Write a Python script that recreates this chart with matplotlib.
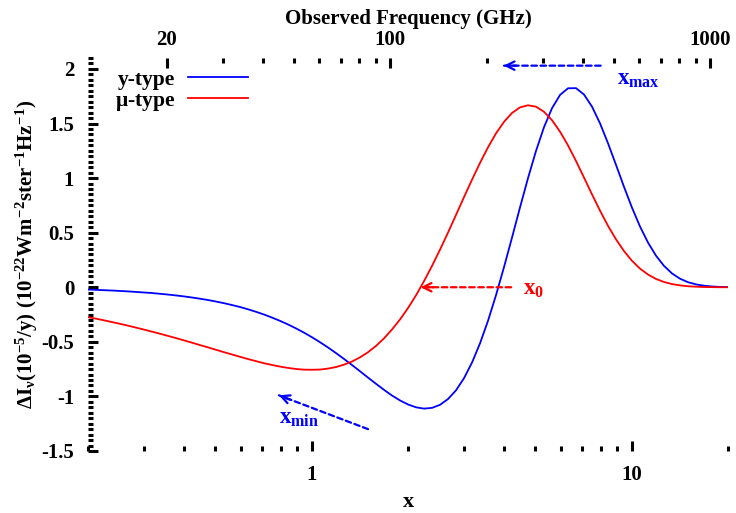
import matplotlib
matplotlib.use("Agg")
import matplotlib.pyplot as plt
from matplotlib.ticker import FixedLocator, FuncFormatter, MultipleLocator, NullFormatter

# dimensionless frequency x = h nu / k T
x = [0.2, 0.2119, 0.2244, 0.2377, 0.2518, 0.2667, 0.2825, 0.2992, 0.317, 0.3358,
     0.3557, 0.3767, 0.3991, 0.4227, 0.4477, 0.4743, 0.5024, 0.5321, 0.5637, 0.5971,
     0.6325, 0.6699, 0.7096, 0.7517, 0.7962, 0.8434, 0.8934, 0.9463, 1.002, 1.062,
     1.125, 1.191, 1.262, 1.337, 1.416, 1.5, 1.589, 1.683, 1.782, 1.888,
     2.0, 2.119, 2.244, 2.377, 2.518, 2.667, 2.825, 2.992, 3.17, 3.358,
     3.557, 3.767, 3.991, 4.227, 4.477, 4.743, 5.024, 5.321, 5.637, 5.971,
     6.325, 6.699, 7.096, 7.517, 7.962, 8.434, 8.934, 9.463, 10.02, 10.62,
     11.25, 11.91, 12.62, 13.37, 14.16, 15.0, 15.89, 16.83, 17.82, 18.88, 20.0]
# y-type distortion, per y = 1e-5
y_type = [-0.021, -0.024, -0.027, -0.030, -0.034, -0.038, -0.043, -0.048, -0.053, -0.060,
          -0.067, -0.075, -0.084, -0.094, -0.105, -0.117, -0.131, -0.146, -0.163, -0.181,
          -0.202, -0.225, -0.250, -0.278, -0.308, -0.341, -0.377, -0.416, -0.458, -0.504,
          -0.552, -0.603, -0.657, -0.713, -0.770, -0.828, -0.885, -0.940, -0.992, -1.037,
          -1.074, -1.100, -1.112, -1.105, -1.077, -1.024, -0.944, -0.833, -0.689, -0.513,
          -0.306, -0.072, 0.186, 0.456, 0.732, 1.001, 1.250, 1.467, 1.641, 1.762,
          1.823, 1.824, 1.765, 1.654, 1.501, 1.318, 1.120, 0.919, 0.729, 0.555,
          0.408, 0.289, 0.195, 0.126, 0.078, 0.046, 0.026, 0.014, 0.007, 0.003, 0.001]
# mu-type distortion
mu_type = [-0.274, -0.288, -0.303, -0.319, -0.335, -0.352, -0.370, -0.388, -0.407, -0.426,
           -0.446, -0.466, -0.487, -0.508, -0.530, -0.551, -0.573, -0.595, -0.616, -0.637,
           -0.658, -0.677, -0.696, -0.712, -0.727, -0.739, -0.749, -0.755, -0.756, -0.754,
           -0.745, -0.731, -0.709, -0.680, -0.642, -0.595, -0.537, -0.468, -0.387, -0.295,
           -0.190, -0.073, 0.056, 0.196, 0.345, 0.501, 0.663, 0.826, 0.986, 1.140,
           1.283, 1.410, 1.516, 1.597, 1.648, 1.667, 1.654, 1.607, 1.530, 1.425,
           1.299, 1.156, 1.004, 0.850, 0.701, 0.562, 0.438, 0.331, 0.242, 0.170,
           0.116, 0.076, 0.048, 0.029, 0.017, 0.009, 0.005, 0.002, 0.001, 0.000, 0.000]

x_ticks = [1, 10]
x_minor = [0.2, 0.3, 0.4, 0.5, 0.6, 0.7, 0.8, 0.9, 2, 3, 4, 5, 6, 7, 8, 9, 20]
ghz_ticks = [20, 100, 1000]
ghz_minor = [30, 40, 50, 60, 70, 80, 90, 200, 300, 400, 500, 600, 700, 800, 900]

GHZ_PER_X = 56.78  # k T_cmb / h

plt.rcParams["font.family"] = "Liberation Serif"
plt.rcParams["font.weight"] = "bold"
plt.rcParams["mathtext.fontset"] = "custom"
plt.rcParams["mathtext.rm"] = "Liberation Serif:bold"
plt.rcParams["mathtext.it"] = "Liberation Serif:bold"
plt.rcParams["mathtext.bf"] = "Liberation Serif:bold"

fig = plt.figure(figsize=(7.36, 5.13), dpi=100)
ax = fig.add_axes([0.1196, 0.1209, 0.8696, 0.766])

ax.plot(x, y_type, color="#0000ff", lw=1.3, label="y-type")
ax.plot(x, mu_type, color="#ff0000", lw=1.3, label=r"$\mu$-type")

ax.set_xscale("log")
ax.set_xlim(0.2, 20)
ax.set_ylim(-1.5, 2.1)

for s in ax.spines.values():
    s.set_visible(False)

fmt = FuncFormatter(lambda v, p: f"{v:g}")
ax.xaxis.set_major_locator(FixedLocator(x_ticks))
ax.xaxis.set_major_formatter(fmt)
ax.xaxis.set_minor_locator(FixedLocator(x_minor))
ax.xaxis.set_minor_formatter(NullFormatter())
ax.yaxis.set_major_locator(MultipleLocator(0.5))
ax.yaxis.set_minor_locator(MultipleLocator(0.05))
ax.yaxis.set_major_formatter(fmt)
ax.tick_params(which="both", direction="in", width=2.2, labelsize=15, pad=10)
ax.tick_params(which="major", length=7.5)
ax.tick_params(which="minor", length=3.5)
ax.tick_params(axis="x", top=False)

top = ax.secondary_xaxis("top", functions=(lambda v: v * GHZ_PER_X,
                                           lambda v: v / GHZ_PER_X))
top.spines["top"].set_visible(False)
top.xaxis.set_major_locator(FixedLocator(ghz_ticks))
top.xaxis.set_major_formatter(fmt)
top.xaxis.set_minor_locator(FixedLocator(ghz_minor))
top.xaxis.set_minor_formatter(NullFormatter())
top.tick_params(which="both", direction="in", width=2.2, labelsize=15, pad=6)
top.tick_params(which="major", length=7.5)
top.tick_params(which="minor", length=3.5)
top.set_xlabel("Observed Frequency (GHz)", fontsize=15, fontweight="bold", labelpad=4)

ax.set_xlabel("x", fontsize=16, fontweight="bold", labelpad=5)
ax.set_ylabel(r"$\Delta I_{\nu}(10^{-5}/y)\ (10^{-22}Wm^{-2}ster^{-1}Hz^{-1})$",
              fontsize=15, labelpad=1)

ax.legend(loc="upper left", bbox_to_anchor=(0.042, 0.97), frameon=False,
          markerfirst=False, fontsize=15.5, handlelength=2.8, handletextpad=0.6,
          labelspacing=0.05, borderaxespad=0, borderpad=0)


def dashed_arrow(tip, tail, color, head_off):
    dash = (0, (2.5, 1.6))
    ax.annotate("", xy=tip, xytext=tail,
                arrowprops=dict(arrowstyle="-", color=color, lw=1.6, linestyle=dash,
                                shrinkA=0, shrinkB=0))
    ax.annotate("", xy=tip, xytext=head_off, textcoords="offset points",
                arrowprops=dict(arrowstyle="->,head_length=0.6,head_width=0.3",
                                color=color, lw=1.6, shrinkA=0, shrinkB=0))


dashed_arrow((3.98, 2.03), (8.0, 2.03), "#0000ff", (9, 0))
dashed_arrow((2.19, 0.0), (4.2, 0.0), "#ff0000", (9, 0))
dashed_arrow((0.79, -0.99), (1.5, -1.30), "#0000ff", (8.4, -3.3))

ax.text(9.0, 1.86, r"$x_{max}$", color="#0000ff", fontsize=16.5, va="baseline")
ax.text(4.57, -0.07, r"$x_{0}$", color="#ff0000", fontsize=16.5, va="baseline")
ax.text(0.79, -1.25, r"$x_{min}$", color="#0000ff", fontsize=16.5, va="baseline")

fig.savefig("out.png", dpi=100)
